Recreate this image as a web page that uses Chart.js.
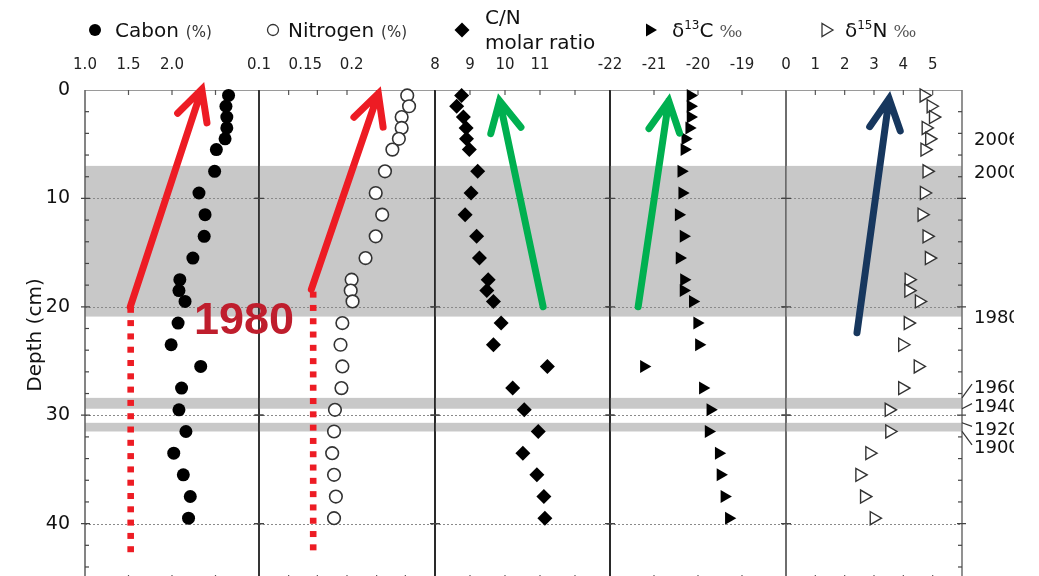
<!DOCTYPE html>
<html>
<head>
<meta charset="utf-8">
<script src="https://cdn.jsdelivr.net/npm/chart.js@4.4.1/dist/chart.umd.min.js"></script>
<style>
html, body { margin: 0; padding: 0; background: #fff; overflow: hidden; }
#wrap { position: relative; width: 1039px; height: 576px; overflow: hidden; }
#wrap canvas { position: absolute; left: 0; top: 0; }
</style>
</head>
<body>
<div id="wrap">
  <canvas id="p0" width="1039" height="600"></canvas>
  <canvas id="p1" width="1039" height="600"></canvas>
  <canvas id="p2" width="1039" height="600"></canvas>
  <canvas id="p3" width="1039" height="600"></canvas>
  <canvas id="p4" width="1039" height="600"></canvas>
</div>
<script>
// sample depths (cm) and measured profiles
const depths   = [0.5, 1.5, 2.5, 3.5, 4.5, 5.5, 7.5, 9.5, 11.5, 13.5, 15.5, 17.5, 18.5, 19.5, 21.5, 23.5, 25.5, 27.5, 29.5, 31.5, 33.5, 35.5, 37.5, 39.5];
const carbon   = [2.65, 2.62, 2.63, 2.63, 2.61, 2.51, 2.49, 2.31, 2.38, 2.37, 2.24, 2.09, 2.08, 2.15, 2.07, 1.99, 2.33, 2.11, 2.08, 2.16, 2.02, 2.13, 2.21, 2.19];
const nitrogen = [0.260, 0.262, 0.254, 0.254, 0.251, 0.244, 0.236, 0.226, 0.233, 0.226, 0.215, 0.200, 0.199, 0.201, 0.190, 0.188, 0.190, 0.189, 0.182, 0.181, 0.179, 0.181, 0.183, 0.181];
const cnRatio  = [8.76, 8.62, 8.81, 8.89, 8.90, 8.98, 9.22, 9.03, 8.86, 9.19, 9.27, 9.52, 9.48, 9.67, 9.89, 9.67, 11.21, 10.22, 10.55, 10.95, 10.51, 10.91, 11.11, 11.14];
const d13C     = [-20.17, -20.17, -20.17, -20.20, -20.29, -20.31, -20.38, -20.36, -20.44, -20.33, -20.42, -20.32, -20.33, -20.12, -20.02, -19.98, -21.23, -19.89, -19.72, -19.76, -19.53, -19.49, -19.40, -19.30];
const d15N     = [4.70, 4.94, 5.02, 4.77, 4.89, 4.73, 4.80, 4.71, 4.63, 4.80, 4.88, 4.19, 4.18, 4.54, 4.16, 3.97, 4.50, 3.97, 3.51, 3.53, 2.85, 2.51, 2.67, 3.00];

// tick labels
const depthTicks  = [0, 10, 20, 30, 40];
const carbonTicks = [1.0, 1.5, 2.0];
const nitroTicks  = [0.1, 0.15, 0.2];
const cnTicks     = [8, 9, 10, 11];
const d13Ticks    = [-22, -21, -20, -19];
const d15Ticks    = [0, 1, 2, 3, 4, 5];

// dated horizons
const bands      = [[7.0, 20.9], [28.4, 29.4], [30.7, 31.5]];
const yearLabels = ['2006', '2000', '1980', '1960', '1940', '1920', '1900'];
const yearDepths = [4.6, 7.7, 21.1, 27.5, 29.3, 31.4, 33.1];
const yearLinks  = [null, null, null, 28.4, 29.4, 30.7, 31.5];

const FONT = '"DejaVu Sans", Verdana, sans-serif';
const W = 1039, H = 600;
const TOP = 90, BOTTOM = 580;
const YMAX = 45.2;
const edges = [85, 259, 435, 610, 786, 962];
const RED = '#ed1c24', GREEN = '#00b050', NAVY = '#17375e';

const panels = [
  { values: carbon,   min: 1.0,  max: 3.0,  ticks: carbonTicks, minor: [1.5, 2.0, 2.5], fmt: v => v.toFixed(1),
    style: 'circle', radius: 6.5, fill: '#000', stroke: '#000', bw: 0 },
  { values: nitrogen, min: 0.1,  max: 0.29, ticks: nitroTicks, minor: [0.132, 0.163, 0.195, 0.227, 0.258], fmt: v => String(v),
    style: 'circle', radius: 6.3, fill: '#fff', stroke: '#333', bw: 1.6 },
  { values: cnRatio,  min: 8,    max: 13,   ticks: cnTicks, minor: [9, 10, 11, 12], fmt: v => String(v),
    style: 'rectRot', radius: 7.5, fill: '#000', stroke: '#000', bw: 0 },
  { values: d13C,     min: -22,  max: -18,  ticks: d13Ticks, minor: [-21, -20, -19], fmt: v => String(v),
    style: 'triangle', radius: 7.5, fill: '#000', stroke: '#000', bw: 0 },
  { values: d15N,     min: 0,    max: 6,    ticks: d15Ticks, minor: [1, 2, 3, 4, 5], fmt: v => String(v),
    style: 'triangle', radius: 7.5, fill: '#fff', stroke: '#333', bw: 1.4 }
];

// frame, bands, dotted grid and tick marks of one panel
const decoPlugin = {
  id: 'deco',
  beforeDatasetsDraw(chart, args, opts) {
    const { ctx, chartArea: ca } = chart;
    const xs = chart.scales.x, ys = chart.scales.y;
    ctx.save();
    ctx.fillStyle = '#c8c8c8';
    bands.forEach(b => {
      const y0 = ys.getPixelForValue(b[0]), y1 = ys.getPixelForValue(b[1]);
      ctx.fillRect(ca.left, y0, ca.right - ca.left, y1 - y0);
    });
    ctx.strokeStyle = '#8a8a8a';
    ctx.lineWidth = 1;
    ctx.setLineDash([2, 2]);
    depthTicks.slice(1).forEach(d => {
      const y = Math.round(ys.getPixelForValue(d)) + 0.5;
      ctx.beginPath(); ctx.moveTo(ca.left, y); ctx.lineTo(ca.right, y); ctx.stroke();
    });
    ctx.setLineDash([]);
    // top and bottom
    ctx.strokeStyle = '#9a9a9a';
    ctx.beginPath(); ctx.moveTo(ca.left, ca.top + 0.5); ctx.lineTo(ca.right, ca.top + 0.5); ctx.stroke();
    ctx.strokeStyle = '#555';
    ctx.lineWidth = 1.2;
    opts.minor.forEach(v => {
      const x = xs.getPixelForValue(v);
      ctx.beginPath(); ctx.moveTo(x, ca.top); ctx.lineTo(x, ca.top + 5);
      ctx.moveTo(x, ca.bottom); ctx.lineTo(x, ca.bottom - 5); ctx.stroke();
    });
    // sides
    ctx.strokeStyle = opts.sideColor;
    ctx.lineWidth = 1.6;
    ctx.beginPath();
    ctx.moveTo(ca.left, ca.top); ctx.lineTo(ca.left, ca.bottom);
    ctx.moveTo(ca.right, ca.top); ctx.lineTo(ca.right, ca.bottom);
    ctx.stroke();
    ctx.lineWidth = 1.2;
    ctx.strokeStyle = '#444';
    depthTicks.slice(1).forEach(d => {
      const y = ys.getPixelForValue(d);
      ctx.beginPath();
      ctx.moveTo(ca.left - 4, y); ctx.lineTo(ca.left + 5, y);
      ctx.moveTo(ca.right - 5, y); ctx.lineTo(ca.right + 4, y);
      ctx.stroke();
    });
    for (let d = 2; d < YMAX; d += 2) {
      if (d % 10 === 0) continue;
      const y = ys.getPixelForValue(d);
      ctx.beginPath();
      if (opts.leftMinor) { ctx.moveTo(ca.left, y); ctx.lineTo(ca.left + 4, y); }
      if (opts.rightMinor) { ctx.moveTo(ca.right, y); ctx.lineTo(ca.right - 4, y); }
      ctx.stroke();
    }
    ctx.restore();
  }
};

const charts = [];

function drawArrow(ctx, x0, y0, x1, y1, color) {
  const lw = 7, head = 34, ang = 27 * Math.PI / 180;
  const a = Math.atan2(y0 - y1, x0 - x1);
  const back = lw / (2 * Math.sin(ang));
  const tx = x1 + back * Math.cos(a), ty = y1 + back * Math.sin(a);
  ctx.save();
  ctx.strokeStyle = color; ctx.lineWidth = lw;
  ctx.lineCap = 'round'; ctx.lineJoin = 'miter';
  ctx.beginPath();
  ctx.moveTo(x0, y0); ctx.lineTo(tx, ty);
  ctx.moveTo(tx + head * Math.cos(a + ang), ty + head * Math.sin(a + ang));
  ctx.lineTo(tx, ty);
  ctx.lineTo(tx + head * Math.cos(a - ang), ty + head * Math.sin(a - ang));
  ctx.stroke();
  ctx.restore();
}

function legendMarker(ctx, kind, x, y) {
  ctx.save();
  ctx.beginPath();
  if (kind === 'dot' || kind === 'ring') {
    ctx.arc(x, y, kind === 'dot' ? 6 : 5.5, 0, Math.PI * 2);
  } else if (kind === 'diamond') {
    ctx.moveTo(x, y - 7.5); ctx.lineTo(x + 7.5, y); ctx.lineTo(x, y + 7.5); ctx.lineTo(x - 7.5, y); ctx.closePath();
  } else {
    ctx.moveTo(x + 7, y); ctx.lineTo(x - 4, y - 6.5); ctx.lineTo(x - 4, y + 6.5); ctx.closePath();
  }
  if (kind === 'ring' || kind === 'open') {
    ctx.fillStyle = '#fff'; ctx.fill();
    ctx.strokeStyle = '#333'; ctx.lineWidth = 1.3; ctx.stroke();
  } else {
    ctx.fillStyle = '#000'; ctx.fill();
  }
  ctx.restore();
}

function textRun(ctx, parts, x, y) {
  parts.forEach(p => {
    ctx.font = p.font;
    ctx.fillStyle = p.color || '#111';
    ctx.fillText(p.t, x, y + (p.dy || 0));
    x += ctx.measureText(p.t).width + (p.gap || 0);
  });
}

// arrows, dotted marks, year labels and the legend on the top canvas
const arrowMarks = [
  { panel: 0, from: [1.52, 20.0],    to: [2.37, -0.74],  color: RED },
  { panel: 1, from: [0.1565, 18.4],  to: [0.2315, -0.35], color: RED },
  { panel: 2, from: [11.09, 20.0],   to: [9.80, 0.3],    color: GREEN },
  { panel: 3, from: [-21.36, 20.0],  to: [-20.64, 0.3],  color: GREEN },
  { panel: 4, from: [2.42, 22.4],    to: [3.55, 0.1],    color: NAVY }
];
const dottedMarks = [
  { panel: 0, x: 1.525, from: 20.0, to: 43.2 },
  { panel: 1, x: 0.1585, from: 18.6, to: 42.9 }
];

const notePlugin = {
  id: 'notes',
  afterDraw(chart) {
    const ctx = chart.ctx;
    const px = (p, v) => charts[p] ? charts[p].scales.x.getPixelForValue(v) : chart.scales.x.getPixelForValue(v);
    const py = d => chart.scales.y.getPixelForValue(d);
    ctx.save();
    ctx.fillStyle = RED;
    dottedMarks.forEach(m => {
      const x = px(m.panel, m.x);
      for (let y = py(m.from); y < py(m.to); y += 13.3) {
        ctx.fillRect(x - 3.3, y, 6.6, Math.min(6, py(m.to) - y));
      }
    });
    arrowMarks.forEach(m => {
      drawArrow(ctx, px(m.panel, m.from[0]), py(m.from[1]), px(m.panel, m.to[0]), py(m.to[1]), m.color);
    });
    ctx.font = 'bold 45px "Liberation Sans", Arial, sans-serif';
    ctx.fillStyle = '#bf1e2d';
    ctx.textBaseline = 'alphabetic';
    ctx.fillText('1980', 194, 334);

    // year labels at the right, clipped like the source figure
    const ca = chart.chartArea;
    ctx.save();
    ctx.beginPath(); ctx.rect(0, 0, 1014, H); ctx.clip();
    ctx.font = '18px ' + FONT;
    ctx.fillStyle = '#111';
    ctx.textBaseline = 'middle';
    ctx.strokeStyle = '#333'; ctx.lineWidth = 1.2;
    yearLabels.forEach((t, i) => {
      const y = py(yearDepths[i]);
      ctx.fillText(t, ca.right + 12, y);
      if (yearLinks[i] !== null) {
        ctx.beginPath(); ctx.moveTo(ca.right, py(yearLinks[i])); ctx.lineTo(ca.right + 10, y - 4); ctx.stroke();
      }
    });
    ctx.restore();

    // legend
    ctx.textBaseline = 'alphabetic';
    const big = '20px ' + FONT, small = '15px ' + FONT, sup = '12px ' + FONT, permil = '17px "DejaVu Serif", serif';
    legendMarker(ctx, 'dot', 95, 30);
    textRun(ctx, [{ t: 'Cabon', font: big, gap: 7 }, { t: '(%)', font: small, color: '#333' }], 115, 37);
    legendMarker(ctx, 'ring', 273, 30);
    textRun(ctx, [{ t: 'Nitrogen', font: big, gap: 7 }, { t: '(%)', font: small, color: '#333' }], 288, 37);
    legendMarker(ctx, 'diamond', 462, 30);
    textRun(ctx, [{ t: 'C/N', font: big }], 485, 24);
    textRun(ctx, [{ t: 'molar ratio', font: big }], 485, 49);
    legendMarker(ctx, 'solid', 650, 30);
    textRun(ctx, [{ t: '\u03b4', font: big }, { t: '13', font: sup, dy: -8 }, { t: 'C', font: big, gap: 6 }, { t: '\u2030', font: permil, color: '#555' }], 672, 37);
    legendMarker(ctx, 'open', 826, 30);
    textRun(ctx, [{ t: '\u03b4', font: big }, { t: '15', font: sup, dy: -8 }, { t: 'N', font: big, gap: 6 }, { t: '\u2030', font: permil, color: '#555' }], 845, 37);
    ctx.restore();
  }
};

panels.forEach((p, i) => {
  const first = i === 0, last = i === panels.length - 1;
  const chart = new Chart(document.getElementById('p' + i), {
    type: 'scatter',
    data: {
      datasets: [{
        data: depths.map((d, k) => ({ x: p.values[k], y: d })),
        pointStyle: p.style,
        pointRadius: p.radius,
        pointRotation: p.style === 'triangle' ? 90 : 0,
        pointBackgroundColor: p.fill,
        pointBorderColor: p.stroke,
        pointBorderWidth: p.bw,
        clip: false
      }]
    },
    options: {
      responsive: false,
      animation: false,
      devicePixelRatio: 1,
      events: [],
      layout: { padding: { left: first ? 0 : edges[i], right: W - edges[i + 1], top: 0, bottom: H - BOTTOM } },
      plugins: {
        legend: { display: false },
        tooltip: { enabled: false },
        deco: { minor: p.minor, leftMinor: first, rightMinor: last, sideColor: first ? '#666' : (last ? '#777' : '#222') }
      },
      scales: {
        x: {
          type: 'linear', position: 'top', min: p.min, max: p.max,
          afterBuildTicks: s => { s.ticks = p.ticks.map(v => ({ value: v })); },
          afterFit: s => { s.height = TOP; },
          grid: { display: false }, border: { display: false },
          ticks: { font: { family: FONT, size: 15 }, color: '#222', padding: 8, maxRotation: 0, autoSkip: false, callback: v => p.fmt(v) }
        },
        y: {
          type: 'linear', reverse: true, min: 0, max: YMAX, position: 'left', display: first,
          afterBuildTicks: s => { s.ticks = depthTicks.map(v => ({ value: v })); },
          afterFit: s => { if (first) s.width = edges[0]; },
          grid: { display: false }, border: { display: false },
          ticks: { font: { family: FONT, size: 19 }, color: '#111', padding: 7 },
          title: { display: true, text: 'Depth (cm)', font: { family: FONT, size: 20 }, color: '#111', padding: { top: 24, bottom: 0 } }
        }
      }
    },
    plugins: last ? [decoPlugin, notePlugin] : [decoPlugin]
  });
  charts.push(chart);
});
</script>
</body>
</html>
